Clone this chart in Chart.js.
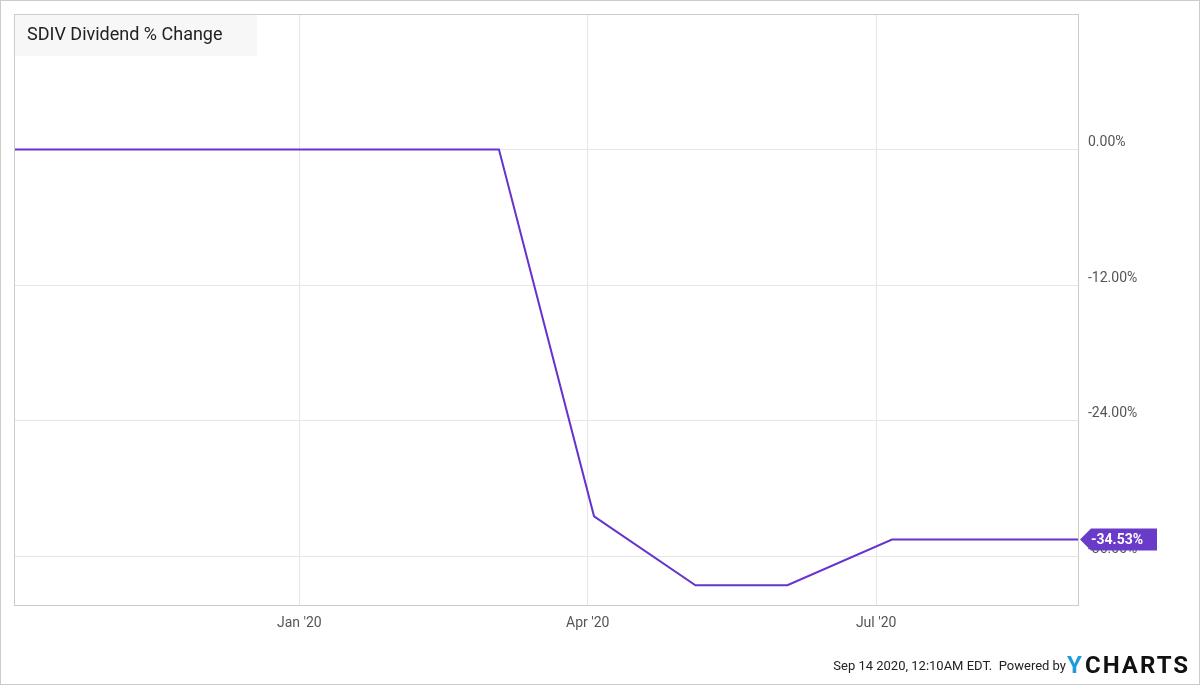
<!DOCTYPE html>
<html>
<head>
<meta charset="utf-8">
<script src="https://cdn.jsdelivr.net/npm/chart.js@4.4.1/dist/chart.umd.min.js"></script>
<style>
  html,body{margin:0;padding:0;background:#fff;}
  #wrap{width:1200px;height:685px;position:relative;}
</style>
</head>
<body>
<div id="wrap"><canvas id="c" width="1200" height="685"></canvas></div>
<script>
// Days since 2020-01-01
const dayValues = [-90, 63, 93, 125, 154, 187, 246];
const pctChange = [0, 0, -32.47, -38.57, -38.57, -34.53, -34.53];
const xTickDays = [0, 91, 182];
const xTickLabels = ["Jan '20", "Apr '20", "Jul '20"];
const yTickValues = [0, -12, -24, -36];
const yTickLabels = ["0.00%", "-12.00%", "-24.00%", "-36.00%"];
const titleText = "SDIV Dividend % Change";
const lastLabel = "-34.53%";
const footerText = "Sep 14 2020, 12:10AM EDT.  Powered by";

const LINE = '#6633cc';
const points = dayValues.map((d, i) => ({x: d, y: pctChange[i]}));

const decor = {
  id: 'decor',
  beforeDraw(chart) {
    const ctx = chart.ctx;
    ctx.save();
    ctx.fillStyle = '#fff';
    ctx.fillRect(0, 0, 1200, 685);
    ctx.restore();
  },
  beforeDatasetsDraw(chart) {
    const ctx = chart.ctx, a = chart.chartArea;
    ctx.save();
    ctx.fillStyle = '#f7f7f7';
    ctx.fillRect(a.left + 1, a.top + 1, 242, 41);
    ctx.fillStyle = '#222';
    ctx.font = '18px Roboto';
    ctx.textBaseline = 'middle';
    ctx.fillText(titleText, 27, 35);
    ctx.restore();
  },
  afterDraw(chart) {
    const ctx = chart.ctx, a = chart.chartArea;
    const ys = chart.scales.y;
    ctx.save();
    ctx.strokeStyle = '#cccccc';
    ctx.lineWidth = 1;
    ctx.strokeRect(Math.round(a.left) + 0.5, Math.round(a.top) + 0.5, Math.round(a.right - a.left) - 1, Math.round(a.bottom - a.top));
    ctx.strokeRect(0.5, 0.5, 1199, 684);
    ctx.fillStyle = '#555';
    ctx.font = '14px Roboto';
    ctx.textBaseline = 'middle';
    ctx.textAlign = 'left';
    yTickValues.forEach((v, i) => {
      const py = ys.getPixelForValue(v);
      ctx.fillText(yTickLabels[i], a.right + 9, py - 7);
    });
    const ly = ys.getPixelForValue(pctChange[pctChange.length - 1]);
    const x0 = a.right + 1;
    ctx.fillStyle = '#6a3bc9';
    ctx.beginPath();
    ctx.moveTo(x0, ly);
    ctx.lineTo(x0 + 11, ly - 11);
    ctx.lineTo(x0 + 77, ly - 11);
    ctx.lineTo(x0 + 77, ly + 11);
    ctx.lineTo(x0 + 11, ly + 11);
    ctx.closePath();
    ctx.fill();
    ctx.fillStyle = '#fff';
    ctx.font = 'bold 14px Roboto';
    ctx.textAlign = 'left';
    ctx.fillText(lastLabel, x0 + 11, ly + 1);
    ctx.fillStyle = '#222';
    ctx.font = '13px Roboto';
    ctx.textAlign = 'right';
    ctx.fillText(footerText, 1066, 667);
    ctx.textAlign = 'left';
    ctx.font = 'bold 24px Roboto';
    ctx.fillStyle = '#1f9bde';
    ctx.fillText('Y', 1067, 667);
    ctx.fillStyle = '#111';
    if ('letterSpacing' in ctx) ctx.letterSpacing = '2px';
    ctx.fillText('CHARTS', 1085, 667);
    ctx.restore();
  }
};

new Chart(document.getElementById('c'), {
  type: 'line',
  data: {
    datasets: [{
      data: points,
      borderColor: LINE,
      borderWidth: 2,
      pointRadius: 0,
      tension: 0,
      fill: false
    }]
  },
  options: {
    responsive: false,
    animation: false,
    devicePixelRatio: 1,
    layout: {padding: {left: 14, top: 14, right: 0, bottom: 0}},
    plugins: {legend: {display: false}, tooltip: {enabled: false}},
    scales: {
      x: {
        type: 'linear',
        min: -90,
        max: 246,
        afterBuildTicks(s) { s.ticks = xTickDays.map(v => ({value: v})); },
        afterFit(s) { s.height = 80; },
        grid: {color: '#e6e6e6', drawTicks: false},
        border: {display: false},
        ticks: {
          autoSkip: false,
          maxRotation: 0,
          padding: 10,
          color: '#555',
          font: {family: 'Roboto', size: 14},
          callback(v) { const i = xTickDays.indexOf(v); return i >= 0 ? xTickLabels[i] : ''; }
        }
      },
      y: {
        position: 'right',
        min: -40.32,
        max: 12,
        afterBuildTicks(s) { s.ticks = yTickValues.map(v => ({value: v})); },
        afterFit(s) { s.width = 121; },
        grid: {color: '#e6e6e6', drawTicks: false},
        border: {display: false},
        ticks: {display: false}
      }
    }
  },
  plugins: [decor]
});
</script>
</body>
</html>
